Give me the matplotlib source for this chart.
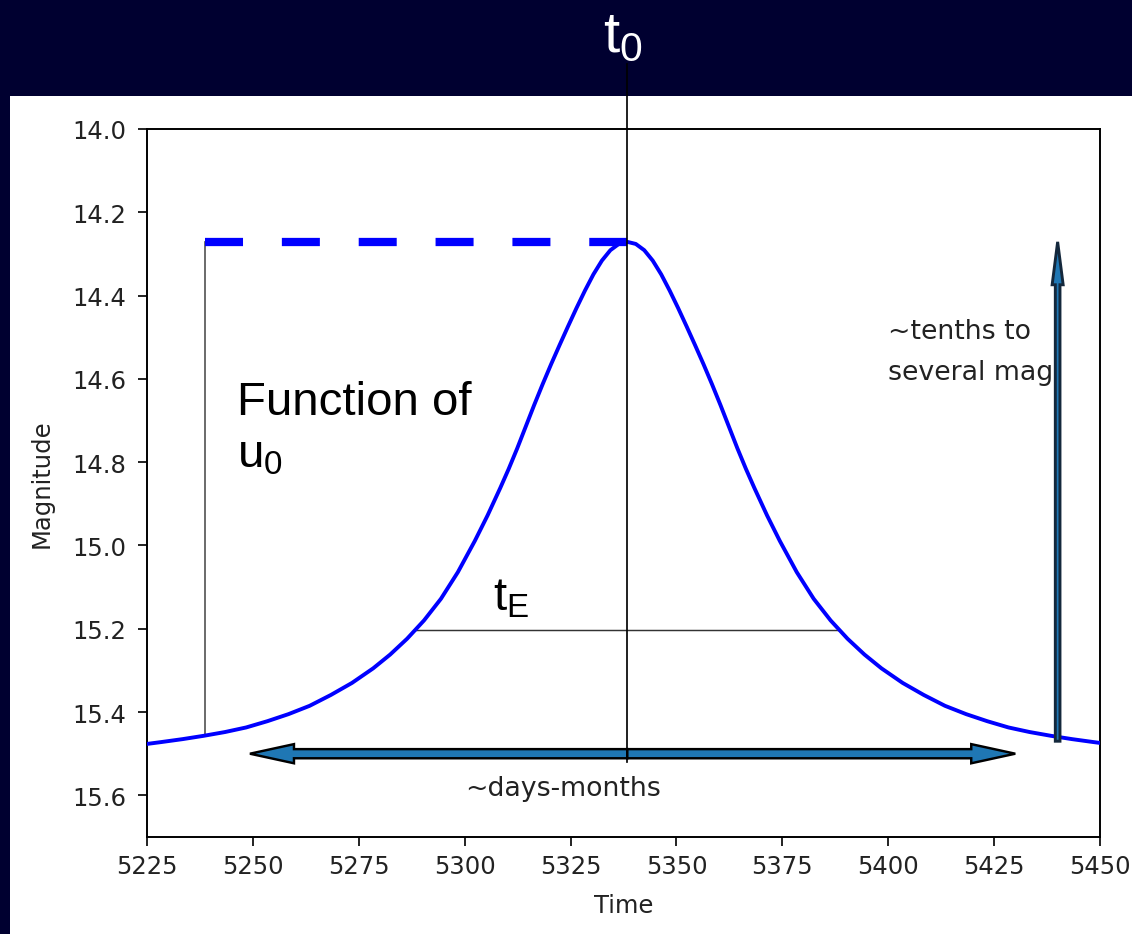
import numpy as np
import matplotlib.pyplot as plt
from matplotlib.patches import Rectangle

# light curve: days from peak and magnitude (symmetric event)
t0 = 5338.4
offset_days = [0, 2, 4, 6, 8, 10, 12, 14, 16, 18, 20, 22, 24, 26, 28, 30, 33, 36, 40,
               44, 48, 52, 56, 60, 65, 70, 75, 80, 85, 90, 95, 100, 105, 110, 113]
mag_profile = [14.271, 14.276, 14.291, 14.316, 14.349, 14.388, 14.430, 14.474, 14.519,
               14.565, 14.613, 14.663, 14.715, 14.767, 14.816, 14.862, 14.928, 14.989,
               15.064, 15.128, 15.180, 15.224, 15.262, 15.295, 15.330, 15.359, 15.385,
               15.405, 15.422, 15.437, 15.448, 15.457, 15.465, 15.472, 15.476]

time = [t0 - d for d in offset_days[::-1]] + [t0 + d for d in offset_days[1:]]
mag = mag_profile[::-1] + mag_profile[1:]

peak_mag = 14.271
u0_time = 5238.7      # left end of the peak-level marker
u0_base = 15.457      # curve value under it
te_mag = 15.202       # half-width level
te_left, te_right = 5288.3, 5388.1
span_left, span_right, span_mag = 5249.3, 5430.0, 15.5
amp_time, amp_base = 5440.0, 15.47

navy = '#000030'
plt.rcParams['mathtext.fontset'] = 'custom'
plt.rcParams['mathtext.rm'] = 'Liberation Sans'

fig = plt.figure(figsize=(1132/175, 935/175), dpi=175, facecolor=navy)
fig.patches.append(Rectangle((10/1132, 0), 1, (935-97)/935, transform=fig.transFigure,
                             facecolor='white', edgecolor='none', zorder=-10))
ax = fig.add_axes([147/1132, 97/935, 953/1132, 708/935])

ax.plot(time, mag, color='blue', lw=1.6, zorder=3)
ax.plot([u0_time, t0], [peak_mag, peak_mag], color='blue', lw=3.4,
        linestyle=(0, (4.6, 4.7)), zorder=3)
ax.plot([u0_time, u0_time], [peak_mag, u0_base], color='#555555', lw=0.7)
ax.plot([te_left, te_right], [te_mag, te_mag], color='#333333', lw=0.6)
ax.plot([t0, t0], [13.844, 15.52], color='black', lw=0.7, clip_on=False, zorder=4)

ax.arrow(t0, span_mag, span_left - t0, 0, width=0.022, head_width=0.046, head_length=10.4,
         length_includes_head=True, facecolor='C0', edgecolor='black', lw=1, zorder=5)
ax.arrow(t0, span_mag, span_right - t0, 0, width=0.022, head_width=0.046, head_length=10.4,
         length_includes_head=True, facecolor='C0', edgecolor='black', lw=1, zorder=5)
ax.arrow(amp_time, amp_base, 0, peak_mag - amp_base, width=1.1, head_width=2.6, head_length=0.103,
         length_includes_head=True, facecolor='C0', edgecolor='#14283c', lw=1.2, zorder=5)

ax.text(5400, 14.6, '~tenths to\nseveral mag', fontsize=11, color='#222222', linespacing=1.75)
ax.text(5300, 15.6, '~days-months', fontsize=11, color='#222222')

ax.set_xlim(5225, 5450)
ax.set_ylim(15.7, 14.0)
ax.set_xticks(np.arange(5225, 5451, 25))
ax.set_yticks(np.arange(14.0, 15.61, 0.2))
ax.tick_params(colors='#222222', labelcolor='#222222')
ax.tick_params(axis='y', pad=5)
ax.set_xlabel('Time', labelpad=6, color='#222222')
ax.set_ylabel('Magnitude', labelpad=7.5, color='#222222')

# overlay labels
fig.text(237/1132, 1 - 415/935, 'Function of', fontsize=19.5, family='Liberation Sans')
fig.text(237/1132, 1 - 468/935, r'$\mathregular{u_0}$', fontsize=19.5, family='Liberation Sans')
fig.text(493/1132, 1 - 610/935, r'$\mathregular{t_E}$', fontsize=19.5, family='Liberation Sans')
fig.text(603/1132, 1 - 52/935, r'$\mathregular{t_0}$', fontsize=24, color='white',
         family='Liberation Sans')

fig.savefig('out.png', dpi=175, facecolor=navy)
